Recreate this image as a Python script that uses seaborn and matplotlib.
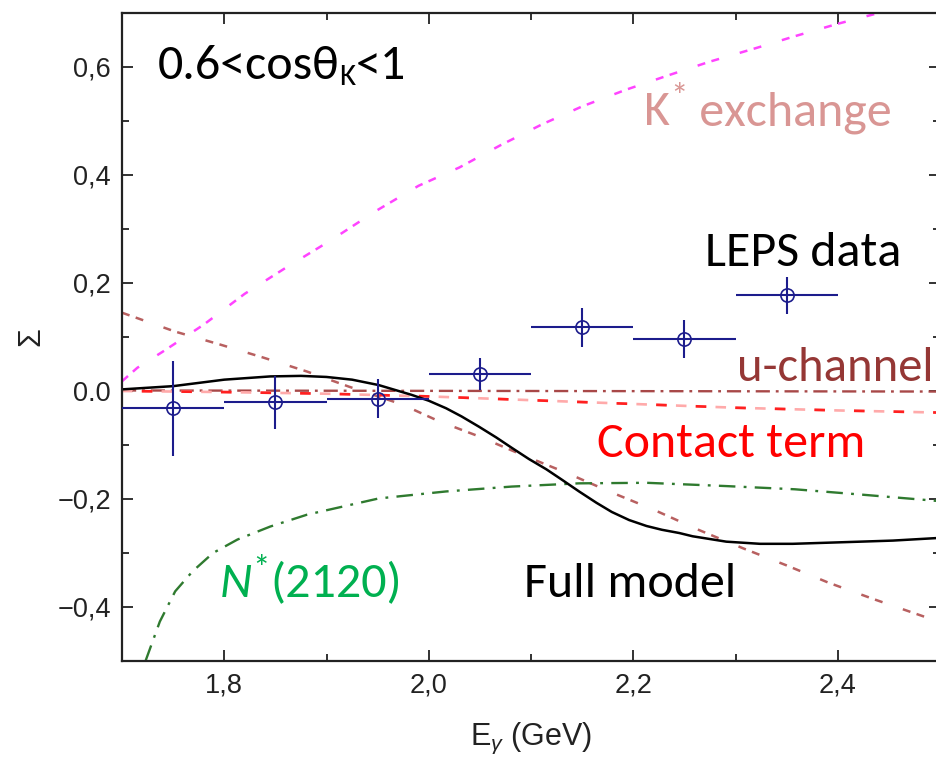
import matplotlib
matplotlib.use("Agg")
import matplotlib.pyplot as plt
from matplotlib import font_manager as fm
from matplotlib.transforms import offset_copy
import seaborn as sns

# ---- LEPS beam asymmetry, 0.6 < cos(theta_K) < 1 ----
E_data = [1.75, 1.85, 1.95, 2.05, 2.15, 2.25, 2.35]
S_data = [-0.032, -0.021, -0.014, 0.032, 0.118, 0.097, 0.177]
S_err = [0.088, 0.049, 0.036, 0.030, 0.036, 0.035, 0.034]
E_halfbin = [0.05, 0.05, 0.05, 0.05, 0.05, 0.05, 0.05]

# ---- model curves ----
E_full = [1.70, 1.75, 1.80, 1.845, 1.875, 1.90, 1.925, 1.951, 1.983, 2.000,
          2.017, 2.032, 2.049, 2.066, 2.081, 2.098, 2.115, 2.130, 2.147,
          2.164, 2.179, 2.196, 2.213, 2.228, 2.245, 2.258, 2.291, 2.324,
          2.356, 2.389, 2.422, 2.454, 2.50]
S_full = [0.003, 0.009, 0.021, 0.027, 0.028, 0.026, 0.021, 0.011, -0.007,
          -0.018, -0.032, -0.047, -0.066, -0.086, -0.105, -0.126, -0.145,
          -0.164, -0.186, -0.207, -0.224, -0.239, -0.250, -0.257, -0.263,
          -0.269, -0.279, -0.283, -0.283, -0.281, -0.279, -0.277, -0.272]

E_kstar = [1.70, 1.715, 1.74, 1.78, 1.82, 1.86, 1.905, 1.948, 1.99, 2.03,
           2.07, 2.111, 2.15, 2.193, 2.235, 2.275, 2.32, 2.358, 2.40, 2.44, 2.46]
S_kstar = [0.018, 0.043, 0.073, 0.123, 0.180, 0.228, 0.280, 0.333, 0.380,
           0.414, 0.455, 0.494, 0.527, 0.558, 0.585, 0.610, 0.635, 0.657,
           0.680, 0.700, 0.712]

E_brown = [1.70, 1.752, 1.796, 1.838, 1.881, 1.922, 1.974, 2.01, 2.049, 2.091,
           2.134, 2.179, 2.219, 2.265, 2.307, 2.35, 2.391, 2.436, 2.50]
S_brown = [0.145, 0.110, 0.086, 0.062, 0.036, 0.008, -0.025, -0.056, -0.084,
           -0.118, -0.151, -0.188, -0.219, -0.258, -0.291, -0.323, -0.355,
           -0.386, -0.428]

E_uchan = [1.70, 2.10, 2.50]
S_uchan = [0.001, 0.000, -0.001]

E_contact = [1.70, 1.80, 1.90, 2.00, 2.10, 2.20, 2.30, 2.40, 2.50]
S_contact = [0.000, -0.002, -0.005, -0.010, -0.017, -0.024, -0.031, -0.036, -0.040]

E_nstar = [1.723, 1.737, 1.752, 1.769, 1.789, 1.813, 1.845, 1.881, 1.951,
           2.017, 2.081, 2.147, 2.213, 2.29, 2.358, 2.424, 2.50]
S_nstar = [-0.500, -0.427, -0.371, -0.334, -0.300, -0.275, -0.251, -0.229,
           -0.199, -0.186, -0.177, -0.171, -0.170, -0.176, -0.182, -0.192,
           -0.204]

x_ticks = [1.8, 2.0, 2.2, 2.4]
x_ticklabels = ["1,8", "2,0", "2,2", "2,4"]
x_minor = [1.9, 2.1, 2.3]
y_ticks = [-0.4, -0.2, 0.0, 0.2, 0.4, 0.6]
y_ticklabels = ["\u22120,4", "\u22120,2", "0.0", "0,2", "0,4", "0,6"]
y_minor = [-0.3, -0.1, 0.1, 0.3, 0.5]


def has_font(name):
    try:
        fm.findfont(fm.FontProperties(family=name), fallback_to_default=False)
        return True
    except Exception:
        return False


AXIS_FONT = "Liberation Sans Narrow" if has_font("Liberation Sans Narrow") else "Liberation Sans"
NOTE_FONT = "Carlito" if has_font("Carlito") else "Lato"

sns.set_style("ticks")
plt.rcParams["font.family"] = [AXIS_FONT, "DejaVu Sans"]
plt.rcParams["mathtext.fontset"] = "custom"
plt.rcParams["mathtext.rm"] = AXIS_FONT
plt.rcParams["mathtext.it"] = AXIS_FONT + ":italic"

INK = "#222222"
NAVY = "#1c1c8c"

fig = plt.figure(figsize=(9.37, 7.65), dpi=100)
ax = fig.add_axes([122 / 937, 104 / 765, 818 / 937, 648 / 765])

sns.lineplot(x=E_kstar, y=S_kstar, ax=ax, color="#ff44ff", lw=1.8,
             estimator=None, sort=False, linestyle=(0, (3.2, 2.6, 3.2, 8.6)))
sns.lineplot(x=E_brown, y=S_brown, ax=ax, color="#b86060", lw=1.8,
             estimator=None, sort=False, linestyle=(0, (3.2, 2.6, 3.2, 8.6)))
sns.lineplot(x=E_nstar, y=S_nstar, ax=ax, color="#2f7a2f", lw=1.7,
             estimator=None, sort=False, linestyle=(0, (7, 3.5, 1.2, 3.5)))
sns.lineplot(x=E_uchan, y=S_uchan, ax=ax, color="#a84848", lw=1.7,
             estimator=None, sort=False, linestyle=(0, (6, 2.5, 1.2, 2.5)))
sns.lineplot(x=E_contact, y=S_contact, ax=ax, color="#ffaaaa", lw=1.9,
             estimator=None, sort=False, linestyle=(0, (4, 3.5)))
sns.lineplot(x=E_contact, y=S_contact, ax=ax, color="#ff2020", lw=1.9,
             estimator=None, sort=False, linestyle=(7.5, (4, 11)))
sns.lineplot(x=E_full, y=S_full, ax=ax, color="black", lw=1.8,
             estimator=None, sort=False)

ax.errorbar(E_data, S_data, xerr=E_halfbin, yerr=S_err, fmt="o", mfc="none",
            mec=NAVY, ecolor=NAVY, ms=9.5, mew=1.2, elinewidth=1.5, capsize=0,
            zorder=5)

ax.set_xlim(1.7, 2.5)
ax.set_ylim(-0.5, 0.7)
ax.set_xticks(x_ticks, x_ticklabels)
ax.set_xticks(x_minor, minor=True)
ax.set_yticks(y_ticks, y_ticklabels)
ax.set_yticks(y_minor, minor=True)
ax.tick_params(which="both", direction="in", top=True, right=True,
               color=INK, width=1.3, labelcolor=INK, labelsize=19.5, pad=8)
ax.tick_params(which="major", length=8)
ax.tick_params(which="minor", length=5)
for sp in ax.spines.values():
    sp.set_visible(True)
    sp.set_linewidth(1.6)
    sp.set_color(INK)

ax.set_xlabel(r"E$_{\gamma}$ (GeV)", fontsize=22, color=INK, labelpad=16)
ax.set_ylabel("\u03a3", fontsize=22, color=INK, labelpad=8)

renderer = fig.canvas.get_renderer()


def rich_text(x, y, pieces, size, color):
    """Lay out text runs one after another from a data-space baseline point."""
    dx = 0.0
    for text, scale, rise, style in pieces:
        tr = offset_copy(ax.transData, fig=fig, x=dx, y=rise * size * 100 / 72,
                         units="dots")
        t = ax.text(x, y, text, transform=tr, fontsize=size * scale,
                    color=color, va="baseline", ha="left", style=style,
                    family=[NOTE_FONT, "DejaVu Sans"], clip_on=False)
        dx += t.get_window_extent(renderer=renderer).width


NS = 36
rich_text(1.735, 0.577, [("0.6<cos\u03b8", 1, 0, "normal"),
                         ("K", 0.62, -0.12, "normal"),
                         ("<1", 1, 0, "normal")], NS, "black")
rich_text(2.211, 0.492, [("K", 1, 0, "normal"), ("*", 0.7, 0.36, "normal"),
                         (" exchange", 1, 0, "normal")], NS, "#d99694")
rich_text(2.270, 0.232, [("LEPS data", 1, 0, "normal")], NS, "black")
rich_text(2.301, 0.018, [("u-channel", 1, 0, "normal")], NS - 1, "#953735")
rich_text(2.165, -0.123, [("Contact term", 1, 0, "normal")], NS, "#ff0000")
rich_text(2.093, -0.382, [("Full model", 1, 0, "normal")], NS, "black")
rich_text(1.796, -0.382, [("N", 1, 0, "italic"), ("*", 0.7, 0.36, "normal"),
                          ("(2120)", 1, 0, "normal")], NS, "#00b050")

fig.savefig("out.png", dpi=100)
